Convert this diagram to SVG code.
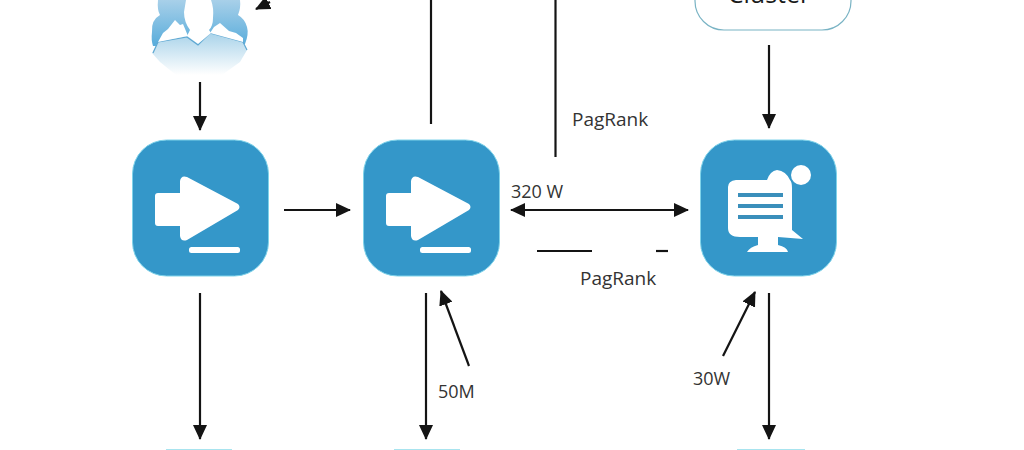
<svg xmlns="http://www.w3.org/2000/svg" width="1024" height="450" viewBox="0 0 1024 450">
<style>
.tile{fill:#3497c9;stroke:#7fd3ea;stroke-width:1}
.w{fill:#fff}
.bar{fill:#3a8fbb}
.ln{fill:none;stroke:#141414;stroke-width:2.2}
.lb{font-family:"Open Sans","Noto Sans",sans-serif;font-size:19px;fill:#333}
.stub{fill:#a8e4ef}
</style>
<defs>
<marker id="ah" viewBox="0 0 15 14" refX="14" refY="7" markerUnits="userSpaceOnUse" markerWidth="15" markerHeight="14" orient="auto-start-reverse"><path d="M0 0L15 7L0 14Z" fill="#141414"/></marker>
<linearGradient id="cloud" x1="0" y1="0" x2="0" y2="1"><stop offset="0" stop-color="#a8d0e9"/><stop offset="1" stop-color="#58acdb"/></linearGradient>
<linearGradient id="body" x1="0" y1="0" x2="0" y2="1"><stop offset="0" stop-color="#a9d3ea"/><stop offset="1" stop-color="#ffffff"/></linearGradient>
<g id="play"><path d="M155 196Q155 193 158 193L180 193L180 181Q181 175 187 177L238 204Q241 207 238 210L187 240Q181 242 180 236L180 226L158 226Q155 226 155 223Z" class="w"/><rect x="189" y="247" width="51" height="6" rx="2.5" class="w"/></g>
</defs>

<g id="user">
<path d="M158 0Q157 10 160 15Q151 20 152 32Q151 40 153 46L245 44Q249 34 247 27Q245 19 238 15Q241 8 240 0Z" fill="url(#cloud)"/>
<path d="M152 53L158 42L187 36L198 45L210 33L243 42L247 50L240 62L222 75L176 75L160 62Z" fill="url(#body)"/>
<path d="M153 53L158 42L187 37L198 45L210 33L243 42L247 50" fill="none" stroke="#5fa8d2" stroke-width="1.2"/>
<path d="M186 0L211 0Q214 8 213 18Q213 26 209 30L211 33L198 44L187 36L190 30Q184 22 184 12Z" class="w"/>
<path d="M158 42L163 33L168 29L175 20L180 25L183 24L188 36Z" class="w"/>
<path d="M210 33L214 27L220 23L229 31L236 33L243 38L243 42Z" class="w"/>
</g>
<g id="cluster">
<rect x="695" y="-30" width="156" height="60" rx="29" fill="#fff" stroke="#79b3c4" stroke-width="1.2"/>
<text x="769" y="3" text-anchor="middle" font-family="'Open Sans','Noto Sans',sans-serif" font-size="25" fill="#1a1a1a">Cluster</text>
</g>
<g id="node-a">
<rect class="tile" x="132.500" y="140" width="136" height="136" rx="34"/>
<use href="#play"/>
</g>
<g id="node-b">
<rect class="tile" x="363.500" y="140" width="136" height="136" rx="34"/>
<use href="#play" x="231"/>
</g>
<g id="node-c">
<rect class="tile" x="700.500" y="140" width="136" height="136" rx="34"/>
<circle cx="801" cy="175" r="10" class="w"/>
<path d="M736 180L767 180Q770 171 777 170Q786 171 790 180Q792 182 792 188L792 230L803 239L778 237L778 245Q787 247 788 252L747 252Q750 247 758 245L758 237L740 237Q728 237 728 228L728 187Q728 181 736 180Z" class="w"/>
<rect class="bar" x="738" y="193" width="45" height="4"/>
<rect class="bar" x="738" y="204" width="45" height="4"/>
<rect class="bar" x="738" y="215" width="45" height="4"/>
</g>
<g id="stub-a"><rect class="stub" x="166" y="449" width="66" height="3"/></g>
<g id="stub-b"><rect class="stub" x="394" y="449" width="66" height="3"/></g>
<g id="stub-c"><rect class="stub" x="737" y="449" width="68" height="3"/></g>

<g id="connectors">
<path class="ln" d="M270 2L256 9" marker-end="url(#ah)"/>
<path class="ln" d="M200 82L200 130" marker-end="url(#ah)"/>
<path class="ln" d="M769 45L769 128" marker-end="url(#ah)"/>
<path class="ln" d="M284 210L350 210" marker-end="url(#ah)"/>
<path class="ln" d="M431 0L431 124"/>
<path class="ln" d="M555.500 0L555.500 157"/>
<path class="ln" d="M511 210L688 210" marker-start="url(#ah)" marker-end="url(#ah)"/>
<path class="ln" d="M537 251L592 251"/>
<path class="ln" d="M656 251L668 251"/>
<path class="ln" d="M200 293L200 439" marker-end="url(#ah)"/>
<path class="ln" d="M426 293L426 439" marker-end="url(#ah)"/>
<path class="ln" d="M469 366L441 291" marker-end="url(#ah)"/>
<path class="ln" d="M723 356L755 292" marker-end="url(#ah)"/>
<path class="ln" d="M769 293L769 439" marker-end="url(#ah)"/>
</g>
<text class="lb" x="572" y="126">PagRank</text>
<text class="lb" x="580" y="285">PagRank</text>
<text class="lb" x="511" y="198" style="font-size:18px">320 W</text>
<text class="lb" x="438" y="398" style="font-size:18px">50M</text>
<text class="lb" x="693" y="385" style="font-size:18px">30W</text>
</svg>
